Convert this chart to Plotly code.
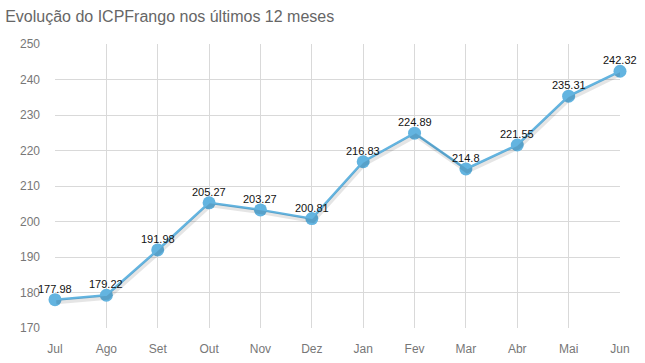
import plotly.graph_objects as go

months = ["Jul", "Ago", "Set", "Out", "Nov", "Dez", "Jan", "Fev", "Mar", "Abr", "Mai", "Jun"]
values = [177.98, 179.22, 191.98, 205.27, 203.27, 200.81, 216.83, 224.89, 214.8, 221.55, 235.31, 242.32]
labels = ["177.98", "179.22", "191.98", "205.27", "203.27", "200.81", "216.83", "224.89", "214.8", "221.55", "235.31", "242.32"]
y_ticks = [170, 180, 190, 200, 210, 220, 230, 240, 250]

FONT = "Arial, Liberation Sans, sans-serif"
BLUE = "#63b4e0"

fig = go.Figure()
# soft shadow under the line
fig.add_trace(go.Scatter(
    x=list(range(len(months))), y=[v - 0.7 for v in values],
    mode="lines", line=dict(color="rgba(0,0,0,0.10)", width=4),
    hoverinfo="skip", showlegend=False, xaxis="x2",
))
fig.add_trace(go.Scatter(
    x=list(range(len(months))), y=values,
    mode="lines+markers",
    line=dict(color=BLUE, width=2.5),
    marker=dict(color=BLUE, size=13),
    cliponaxis=False, showlegend=False,
))

for i, (v, t) in enumerate(zip(values, labels)):
    fig.add_annotation(x=i, y=v, text=t, showarrow=False, yshift=11,
                       font=dict(family=FONT, size=11, color="#111"))

fig.update_layout(
    width=645, height=363,
    margin=dict(l=55, r=25, t=44, b=35),
    paper_bgcolor="white", plot_bgcolor="white",
    title=dict(text="Evolução do ICPFrango nos últimos 12 meses", x=0.008, xanchor="left",
               y=0.955, yanchor="middle",
               font=dict(family=FONT, size=16, color="#666")),
    xaxis=dict(
        tickmode="array", tickvals=list(range(len(months))), ticktext=months,
        range=[0, len(months) - 1], showgrid=True, gridcolor="#d9d9d9", gridwidth=1,
        zeroline=False, showline=False, ticks="", ticklen=0,
        tickfont=dict(family=FONT, size=12, color="#777"),
        ticklabelstandoff=12, automargin=False,
    ),
    xaxis2=dict(overlaying="x", range=[0 - 0.025, len(months) - 1 - 0.025], visible=False),
    yaxis=dict(
        range=[170, 250], tickvals=y_ticks, showgrid=True, gridcolor="#d9d9d9", gridwidth=1,
        zeroline=False, showline=False,
        tickfont=dict(family=FONT, size=12, color="#777"),
        ticklabelstandoff=14, automargin=False,
    ),
    font=dict(family=FONT),
)

fig.write_html("out.html")
